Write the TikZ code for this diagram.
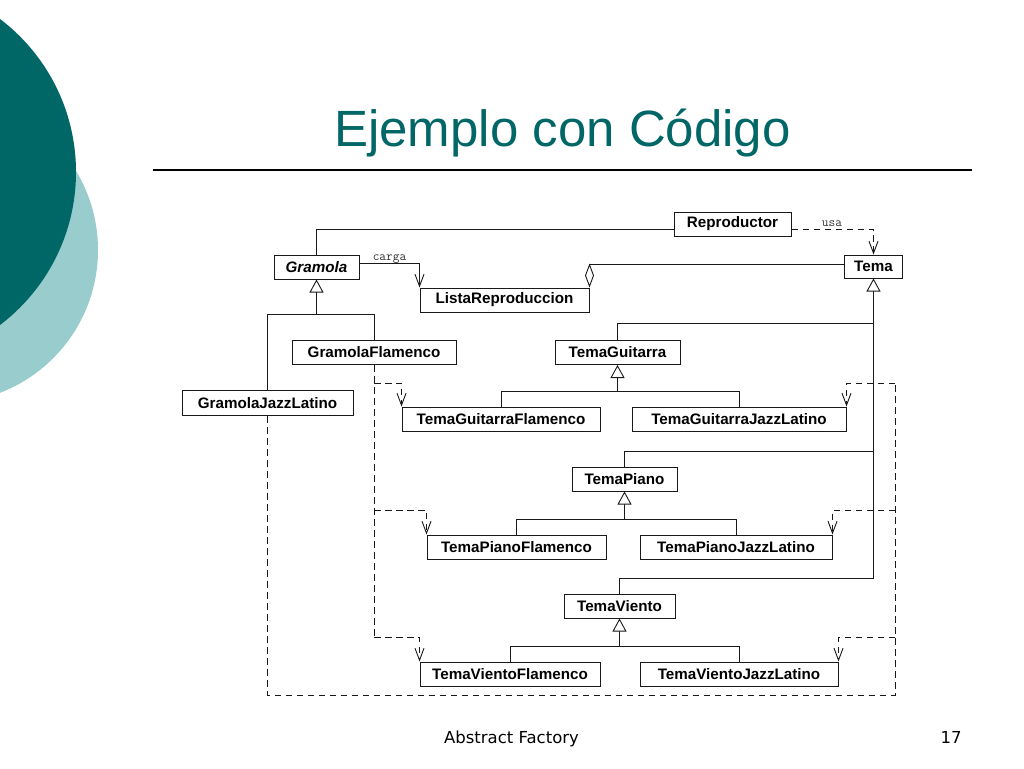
\documentclass[tikz,border=0pt]{standalone}
\usepackage{fontspec}
\setmainfont{Liberation Sans}
\newfontfamily\footf{DejaVu Sans}
\usetikzlibrary{arrows.meta}
\definecolor{tealdark}{RGB}{0,102,102}
\definecolor{teallight}{RGB}{153,204,204}
\definecolor{lncol}{RGB}{25,25,25}
\begin{document}
\begin{tikzpicture}[x=1pt,y=-1pt,
  cls/.style={draw=lncol, fill=white, line width=1pt, inner sep=0pt,
    font=\fontsize{15.2}{15.2}\selectfont\bfseries, minimum height=24pt},
  ln/.style={draw=lncol, line width=1pt},
  dep/.style={draw=lncol, line width=1pt, dash pattern=on 6.5pt off 4.5pt},
  vtip/.style={-{Straight Barb[length=12pt,width=9pt,line width=0.9pt]}},
  tri/.style={-{Triangle[open,fill=white,length=13pt,width=14pt,line width=0.9pt]}},
  dia/.style={-{Diamond[open,fill=white,length=24pt,width=9pt,line width=0.9pt]}},
  lbl/.style={font=\ttfamily\fontsize{13}{13}\selectfont, text=black!80, inner sep=0pt, anchor=base}
]
\useasboundingbox (0,0) rectangle (1024,768);
\fill[white] (0,0) rectangle (1024,768);
\begin{scope}
  \clip (0,0) rectangle (1024,768);
  \fill[teallight] (-55,250) circle[radius=153pt];
  \fill[tealdark] (-116,172) circle[radius=192pt];
\end{scope}

% title and rule
\node[font=\fontsize{51}{51}\selectfont, text=tealdark, anchor=base, inner sep=0pt] (title) at (562.5,146) {Ejemplo con Código};
\draw[line width=1.3pt] (153,170) -- (972,170);

% footer
\node[font=\footf\fontsize{16.5}{16.5}\selectfont, anchor=base, inner sep=0pt] (foot) at (511.5,743) {Abstract Factory};
\node[font=\footf\fontsize{16.5}{16.5}\selectfont, anchor=base, inner sep=0pt] (page) at (951,743) {17};

% classes
\node[cls, minimum width=117pt] (rep) at (732.5,224) {Reproductor};
\node[cls, minimum width=85pt] (gram) at (316.5,267) {\itshape Gramola};
\node[cls, minimum width=169pt] (lista) at (504.5,300) {ListaReproduccion};
\node[cls, minimum width=58pt, minimum height=23pt] (tema) at (873.5,266.5) {Tema};
\node[cls, minimum width=164pt] (gf) at (374,352.5) {GramolaFlamenco};
\node[cls, minimum width=171pt, minimum height=25pt] (gj) at (267.5,403) {GramolaJazzLatino};
\node[cls, minimum width=125pt] (tg) at (617.5,352.5) {TemaGuitarra};
\node[cls, minimum width=198pt] (tgf) at (501,419) {TemaGuitarraFlamenco};
\node[cls, minimum width=214pt] (tgj) at (739,419) {TemaGuitarraJazzLatino};
\node[cls, minimum width=105pt] (tp) at (624.5,479) {TemaPiano};
\node[cls, minimum width=179pt] (tpf) at (516.5,547) {TemaPianoFlamenco};
\node[cls, minimum width=192pt] (tpj) at (736,547) {TemaPianoJazzLatino};
\node[cls, minimum width=111pt] (tv) at (619.5,606) {TemaViento};
\node[cls, minimum width=180pt] (tvf) at (510,674) {TemaVientoFlamenco};
\node[cls, minimum width=198pt] (tvj) at (739,674) {TemaVientoJazzLatino};

% junctions
\coordinate (jgr) at (316.5,314);
\coordinate (jt1) at (873.5,323);
\coordinate (jt2) at (873.5,451);
\coordinate (jt3) at (873.5,578);
\coordinate (jg) at (617.5,391);
\coordinate (jp) at (624.5,519);
\coordinate (jv) at (619.5,646);
\coordinate (d1) at (374,383);
\coordinate (d2) at (374,510);
\coordinate (d3) at (374,637);
\coordinate (e1) at (895,383);
\coordinate (e2) at (895,510);
\coordinate (e3) at (895,637);
\coordinate (eb) at (895,695);

% associations
\draw[ln] (gram.north) |- ([yshift=-5pt]rep.west);
\draw[dep, vtip] ([yshift=-5pt]rep.east) -| (tema.north);
\node[lbl] (usa) at (832,226) {usa};
\draw[ln, vtip] ([yshift=4pt]gram.east) -| (lista.north west);
\node[lbl] (carga) at (389.5,260) {carga};
\draw[ln, dia] ([yshift=2.5pt]tema.west) -| (lista.north east);

% Gramola hierarchy
\draw[ln, tri] (gj.north) |- (jgr) -- (gram.south);
\draw[ln] (gf.north) |- (jgr);

% Tema hierarchy
\draw[ln] (tg.north) |- (jt1);
\draw[ln] (tp.north) |- (jt2);
\draw[ln, tri] (tv.north) |- (jt3) -- (tema.south);

\draw[ln, tri] (tgf.north) |- (jg) -- (tg.south);
\draw[ln] (tgj.north) |- (jg);
\draw[ln, tri] (tpf.north) |- (jp) -- (tp.south);
\draw[ln] (tpj.north) |- (jp);
\draw[ln, tri] (tvf.north) |- (jv) -- (tv.south);
\draw[ln] (tvj.north) |- (jv);

% dependencies
\draw[dep] (gf.south) -- (d3);
\draw[dep, vtip] (d1) -| (tgf.north west);
\draw[dep, vtip] (d2) -| (tpf.north west);
\draw[dep, vtip] (d3) -| (tvf.north west);
\draw[dep] (gj.south) |- (eb) -- (e1);
\draw[dep, vtip] (e1) -| (tgj.north east);
\draw[dep, vtip] (e2) -| (tpj.north east);
\draw[dep, vtip] (e3) -| (tvj.north east);
\end{tikzpicture}
\end{document}
